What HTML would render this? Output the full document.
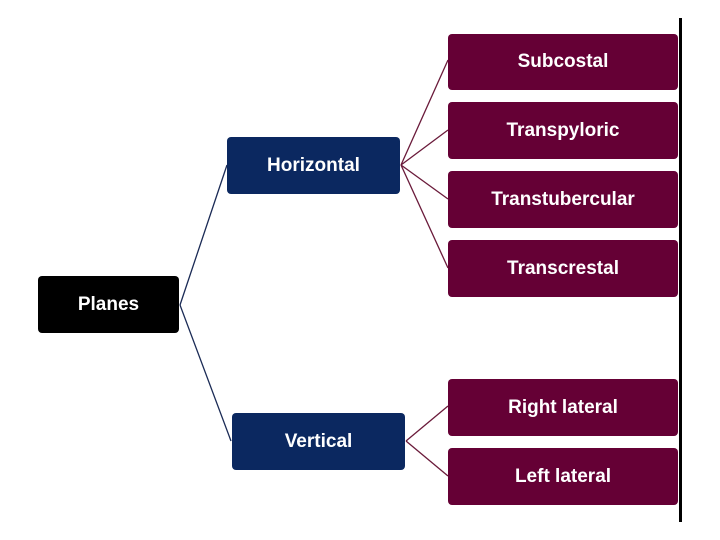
<!DOCTYPE html>
<html><head><style>
body{margin:0;width:720px;height:540px;background:#fff;position:relative;overflow:hidden;font-family:"Liberation Sans",sans-serif}
.b{position:absolute;color:#fff;font-weight:bold;font-size:19px;display:flex;align-items:center;justify-content:center;border-radius:4px}
.m{background:#650035;left:448px;width:230px;height:56px}
.n{background:#0b2860}
</style></head><body>
<svg width="720" height="540" style="position:absolute;left:0;top:0">
<g stroke="#1a2a55" stroke-width="1.3" fill="none">
<line x1="180" y1="305" x2="227" y2="165"/>
<line x1="180" y1="305" x2="231" y2="441"/>
</g>
<g stroke="#6a1a3a" stroke-width="1.3" fill="none">
<line x1="401" y1="165" x2="448" y2="60"/>
<line x1="401" y1="165" x2="448" y2="130"/>
<line x1="401" y1="165" x2="448" y2="199"/>
<line x1="401" y1="165" x2="448" y2="268"/>
<line x1="406" y1="441" x2="448" y2="406"/>
<line x1="406" y1="441" x2="448" y2="476"/>
</g>
<rect x="679" y="18" width="3" height="504" fill="#000"/>
</svg>
<div class="b" style="background:#000;left:38px;top:276px;width:141px;height:57px">Planes</div>
<div class="b n" style="left:227px;top:137px;width:173px;height:57px">Horizontal</div>
<div class="b n" style="left:232px;top:413px;width:173px;height:57px">Vertical</div>
<div class="b m" style="top:34px">Subcostal</div>
<div class="b m" style="top:102px;height:57px">Transpyloric</div>
<div class="b m" style="top:171px;height:57px">Transtubercular</div>
<div class="b m" style="top:240px;height:57px">Transcrestal</div>
<div class="b m" style="top:379px;height:57px">Right lateral</div>
<div class="b m" style="top:448px;height:57px">Left lateral</div>
</body></html>
